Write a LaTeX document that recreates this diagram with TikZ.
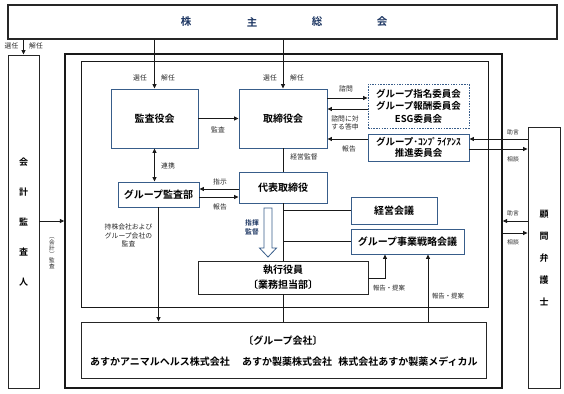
\documentclass[tikz,border=0pt]{standalone}
\usepackage{fontspec}
\setmainfont{Noto Sans CJK JP}[BoldFont={Noto Sans CJK JP Bold}]
\usetikzlibrary{arrows.meta}
\definecolor{bbord}{RGB}{56,93,138}
\definecolor{navy}{RGB}{31,56,100}
\begin{document}
\begin{tikzpicture}[x=1pt,y=-1pt,
  box/.style={draw=bbord, line width=0.9pt, fill=white, inner sep=0pt, align=center,
    font=\bfseries\fontsize{10}{12}\selectfont},
  kbox/.style={draw=black!85, line width=0.9pt, fill=white, inner sep=0pt, align=center,
    font=\bfseries\fontsize{10}{14}\selectfont},
  frame/.style={draw=black!90, inner sep=0pt},
  lbl/.style={font=\fontsize{6.8}{8.4}\selectfont, text=black!85, inner sep=0pt, align=center},
  slbl/.style={font=\fontsize{5.8}{7}\selectfont, text=black!85, inner sep=0pt},
  vch/.style={font=\bfseries\fontsize{9}{9}\selectfont, inner sep=0pt},
  con/.style={line width=0.8pt, draw=black!90},
  arr/.style={con, -{Triangle[length=4.5pt,width=4pt]}},
  darr/.style={con, {Triangle[length=4.5pt,width=4pt]}-{Triangle[length=4.5pt,width=4pt]}}
]
\useasboundingbox (0,0) rectangle (564,393);

% frames and boxes
\node[kbox, line width=1.1pt, minimum width=549, minimum height=34] (sh) at (282.5,22) {};
\foreach \c/\x in {株/186,主/252,総/317,会/382}
  \node[font=\bfseries\fontsize{10.5}{12}\selectfont, text=navy, inner sep=0pt] (sh\x) at (\x,22) {\c};

\node[frame, line width=1.4pt, minimum width=437, minimum height=334] (outer) at (283.5,221) {};
\node[frame, line width=1pt, minimum width=407, minimum height=245] (inner) at (284.5,184.5) {};

\node[kbox, minimum width=31, minimum height=333] (kaikei) at (23.5,221.5) {};
\foreach \c/\y in {会/162,計/192,監/222,査/252,人/282}
  \node[vch] (kk\y) at (23.5,\y) {\c};
\node[kbox, minimum width=32, minimum height=261] (komon) at (544,257.5) {};
\foreach \c/\y in {顧/214,問/236,弁/258,護/280,士/302}
  \node[vch] (km\y) at (544,\y) {\c};

\node[box, minimum width=87, minimum height=59] (kansa) at (154.5,118.5) {監査役会};
\node[box, minimum width=88, minimum height=59] (tori) at (283,118.5) {取締役会};
\node[box, dashed, dash pattern=on 1.5pt off 1.2pt, minimum width=101, minimum height=44,
  font=\bfseries\fontsize{9.5}{12.5}\selectfont] (comm) at (418.5,106)
  {グループ指名委員会\\グループ報酬委員会\\ESG委員会};
\node[box, minimum width=101, minimum height=27,
  font=\bfseries\fontsize{9.5}{11}\selectfont] (comp) at (418.5,147.5)
  {グループ･ｺﾝﾌﾟﾗｲｱﾝｽ\\推進委員会};
\node[box, minimum width=88, minimum height=31] (daihyo) at (283,187.5) {代表取締役};
\node[box, minimum width=81, minimum height=25] (kansabu) at (158.5,194.5) {グループ監査部};
\node[box, minimum width=86, minimum height=27] (keiei) at (394,210.5) {経営会議};
\node[box, minimum width=113, minimum height=25] (senryaku) at (407.5,241.5) {グループ事業戦略会議};
\node[kbox, minimum width=170, minimum height=33, font=\bfseries\fontsize{10}{15.5}\selectfont]
  (shikko) at (283,277.5) {執行役員\\〔業務担当部〕};
\node[kbox, minimum width=405, minimum height=56] (group) at (283.5,350) {};
\node[font=\bfseries\fontsize{10}{12}\selectfont, inner sep=0pt] (gtitle) at (283,341) {〔グループ会社〕};
\node[font=\bfseries\fontsize{10}{12}\selectfont, inner sep=0pt] (g1) at (160,362) {あすかアニマルヘルス株式会社};
\node[font=\bfseries\fontsize{10}{12}\selectfont, inner sep=0pt] (g2) at (287,362) {あすか製薬株式会社};
\node[font=\bfseries\fontsize{10}{12}\selectfont, inner sep=0pt] (g3) at (408,362) {株式会社あすか製薬メディカル};

% connectors
\draw[arr] (sh.south -| kaikei) -- (kaikei.north);
\draw[arr] (sh.south -| kansa) -- (kansa.north);
\draw[arr] (sh.south -| tori) -- (tori.north);
\draw[arr] (kansa.east) -- (tori.west);
\draw[arr] (tori.east |- 0,98) -- (comm.west |- 0,98);
\draw[arr] (comm.west |- 0,109) -- (tori.east |- 0,109);
\draw[arr] (comp.west |- 0,139) -- (tori.east |- 0,139);
\draw[con] (tori.south) -- (daihyo.north);
\draw[darr] (kansa.south) -- (kansa.south |- kansabu.north);
\draw[arr] (daihyo.west |- 0,189) -- (kansabu.east |- 0,189);
\draw[arr] (kansabu.east |- 0,197) -- (daihyo.west |- 0,197);
\draw[arr] (kansabu.south) -- (kansabu.south |- group.north);
\draw[con] (daihyo.south) -- (shikko.north);
\draw[con] (shikko.south) -- (group.north -| shikko.south);
\draw[con] (daihyo.south |- keiei.west) -- (keiei.west);
\draw[con] (daihyo.south |- senryaku.west) -- (senryaku.west);
\draw[arr] (shikko.east |- 0,278) -| (senryaku.south -| 385,0);
\draw[arr] (group.north -| 428,0) -- (senryaku.south -| 428,0);
\draw[arr] (kaikei.east |- 0,221) -- (outer.west |- 0,221);
\draw[arr] (komon.west |- 0,139) -- (comp.east |- 0,139);
\draw[arr] (comp.east |- 0,149) -- (komon.west |- 0,149);
\draw[arr] (komon.west |- 0,221) -- (outer.east |- 0,221);
\draw[arr] (outer.east |- 0,233) -- (komon.west |- 0,233);

% hollow arrow 指揮監督
\draw[draw=bbord, line width=0.8pt, fill=white, line join=miter]
  (264,208) -- (272,208) -- (272,248) -- (276.5,248) -- (268,257) -- (259.5,248) -- (264,248) -- cycle;

% labels
\node[lbl] at (11.5,46) {選任};
\node[lbl] at (36,46) {解任};
\node[lbl] at (140,78) {選任};
\node[lbl] at (168,78) {解任};
\node[lbl] at (270,78) {選任};
\node[lbl] at (297,78) {解任};
\node[lbl] at (218,130) {監査};
\node[lbl] at (346,89) {諮問};
\node[lbl] at (345,123) {諮問に対\\する答申};
\node[lbl] at (349,149) {報告};
\node[lbl] at (304,157) {経営監督};
\node[lbl] at (168,166) {連携};
\node[lbl] at (220,182) {指示};
\node[lbl] at (220,207) {報告};
\node[lbl] at (128.5,235.5) {持株会社および\\グループ会社の\\監査};
\node[lbl, text=navy, font=\bfseries\fontsize{6.8}{8.8}\selectfont] at (252,227.5) {指揮\\監督};
\node[slbl, font=\fontsize{6.4}{7}\selectfont] at (389,288) {報告・提案};
\node[slbl, font=\fontsize{6.4}{7}\selectfont] at (448,296) {報告・提案};
\node[slbl] at (513,132) {助言};
\node[slbl] at (513,159) {相談};
\node[slbl] at (513,213) {助言};
\node[slbl] at (513,242) {相談};
\node[lbl, font=\fontsize{5.6}{5.9}\selectfont] at (52,253) {︵\\会\\計\\︶\\監\\査};
\end{tikzpicture}
\end{document}
